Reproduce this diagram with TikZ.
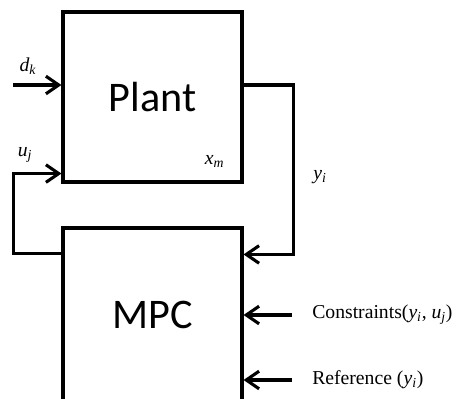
\documentclass[tikz,border=0pt]{standalone}
\usepackage{fontspec}
\setmainfont{Liberation Serif}
\newfontfamily\boxfont{Carlito}
\usetikzlibrary{arrows.meta, positioning, calc}
\newcommand{\varsub}[2]{\textit{#1}\textsubscript{\textit{#2}}}

\begin{document}
\begin{tikzpicture}[
    block/.style={draw, line width=2.2pt, minimum width=4.475cm,
                  font=\boxfont\fontsize{30}{32}\selectfont},
    conn/.style={line width=2.2pt, -{Straight Barb[length=3.2mm, width=4.4mm, line width=2.2pt]}},
    lbl/.style={font=\fontsize{14}{16}\selectfont, inner sep=0pt},
    >=Stealth
  ]
  \clip (0,0) rectangle (11.55,9.95);
  \useasboundingbox (0,0) rectangle (11.55,9.95);

  % Blocks
  \node[block, minimum height=4.25cm] (plant) at (3.8125, 7.525) {Plant};
  \node[block, minimum height=4.35cm] (mpc) at (3.8125, 2.075) {MPC};

  % Plant output back to MPC
  \draw[conn] ([yshift=0.3cm]plant.east) -- ++(1.25,0)
    |- ([yshift=-0.7cm]mpc.north east);
  \node[lbl] (yi) at (8.0, 5.525) {\varsub{y}{i}};

  % Control input loop
  \draw[conn] ([yshift=-0.675cm]mpc.north west) -- ++(-1.2,0)
    |- ([yshift=0.25cm]plant.south west);
  \node[lbl] (uj) at (0.625, 6.075) {\varsub{u}{j}};

  % Disturbance
  \coordinate (din) at ($(plant.west)+(-1.2,0.3)$);
  \draw[conn] (din) -- (din -| plant.west);
  \node[lbl] (dk) at (0.7, 8.3) {\varsub{d}{k}};

  % State
  \node[lbl] (xm) at ([xshift=-0.725cm, yshift=0.55cm]plant.south east) {\varsub{x}{m}};

  % Constraints and reference
  \node[lbl, anchor=west] (cons) at (7.8, 2.075) {Constraints(\varsub{y}{i}, \varsub{u}{j})};
  \node[lbl, anchor=west] (ref) at (7.8, 0.45) {Reference (\varsub{y}{i})};
  \foreach \n in {cons, ref} {
    \draw[conn] (\n.west) ++(-0.5,0) -- (\n.west -| mpc.east);
  }
\end{tikzpicture}
\end{document}
